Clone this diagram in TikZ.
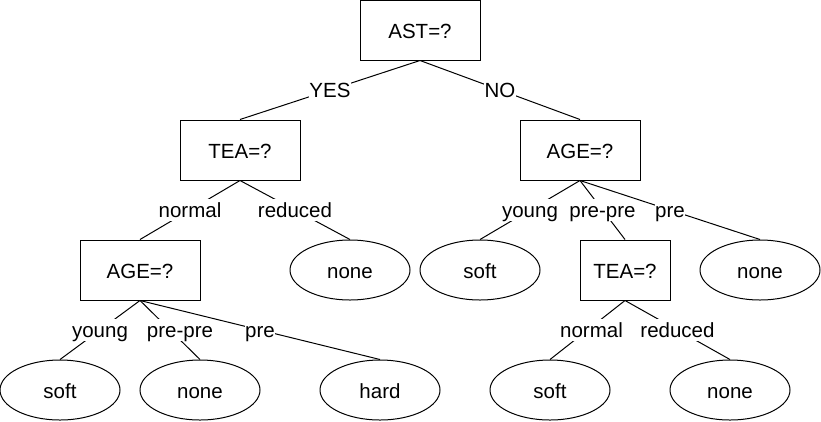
\documentclass[tikz,border=0pt]{standalone}
\usepackage{fontspec}
\setmainfont{Liberation Sans}
\usetikzlibrary{shapes.geometric}

\begin{document}
\begin{tikzpicture}[
        x=1pt, y=-1pt,
        every node/.style={
            font=\fontsize{20.5}{24}\selectfont,
            text height=22pt,
            text depth=4.3pt
        },
        prueba/.style={
            rectangle,
            draw=black,
            line width=1pt,
            minimum width=120pt,
            minimum height=60pt,
            inner sep=0pt
        },
        hoja/.style={
            ellipse,
            draw=black,
            line width=1pt,
            minimum width=120pt,
            minimum height=60pt,
            inner sep=0pt
        },
        rama/.style={
            line width=1pt
        },
        etiq/.style={
            midway,
            fill=white,
            inner sep=0.5pt,
            text height=18pt,
            text depth=3.3pt
        }
    ]

        \useasboundingbox (0,0) rectangle (821,421);

        % tests
        \node[prueba] (ast) at (420,30) {AST=?};
        \node[prueba] (tea) at (240,150) {TEA=?};
        \node[prueba] (age) at (580,150) {AGE=?};
        \node[prueba] (ageb) at (140,270) {AGE=?};
        \node[prueba, minimum width=90pt] (teab) at (625,270) {TEA=?};

        % leaves
        \node[hoja] (noneA) at (350,270) {none};
        \node[hoja] (softA) at (480,270) {soft};
        \node[hoja] (noneB) at (760,270) {none};
        \node[hoja] (softB) at (60,390) {soft};
        \node[hoja] (noneC) at (200,390) {none};
        \node[hoja] (hard) at (380,390) {hard};
        \node[hoja] (softC) at (550,390) {soft};
        \node[hoja] (noneD) at (730,390) {none};

        \draw[rama] (ast.south) -- node[etiq] (yes) {YES} (tea.north);
        \draw[rama] (ast.south) -- node[etiq] (no) {NO} (age.north);
        \draw[rama] (tea.south) -- node[etiq] (normalA) {normal} (ageb.north);
        \draw[rama] (tea.south) -- node[etiq] (reducedA) {reduced} (noneA.north);
        \draw[rama] (ageb.south) -- node[etiq] (youngA) {young} (softB.north);
        \draw[rama] (ageb.south) -- node[etiq, xshift=10pt] (preA) {pre-pre} (noneC.north);
        \draw[rama] (ageb.south) -- node[etiq] (presA) {pre} (hard.north);
        \draw[rama] (age.south) -- node[etiq] (youngB) {young} (softA.north);
        \draw[rama] (age.south) -- node[etiq] (preB) {pre-pre} (teab.north);
        \draw[rama] (age.south) -- node[etiq] (presB) {pre} (noneB.north);
        \draw[rama] (teab.south) -- node[etiq, xshift=4pt] (normalB) {normal} (softC.north);
        \draw[rama] (teab.south) -- node[etiq] (reducedB) {reduced} (noneD.north);

    \end{tikzpicture}
\end{document}
